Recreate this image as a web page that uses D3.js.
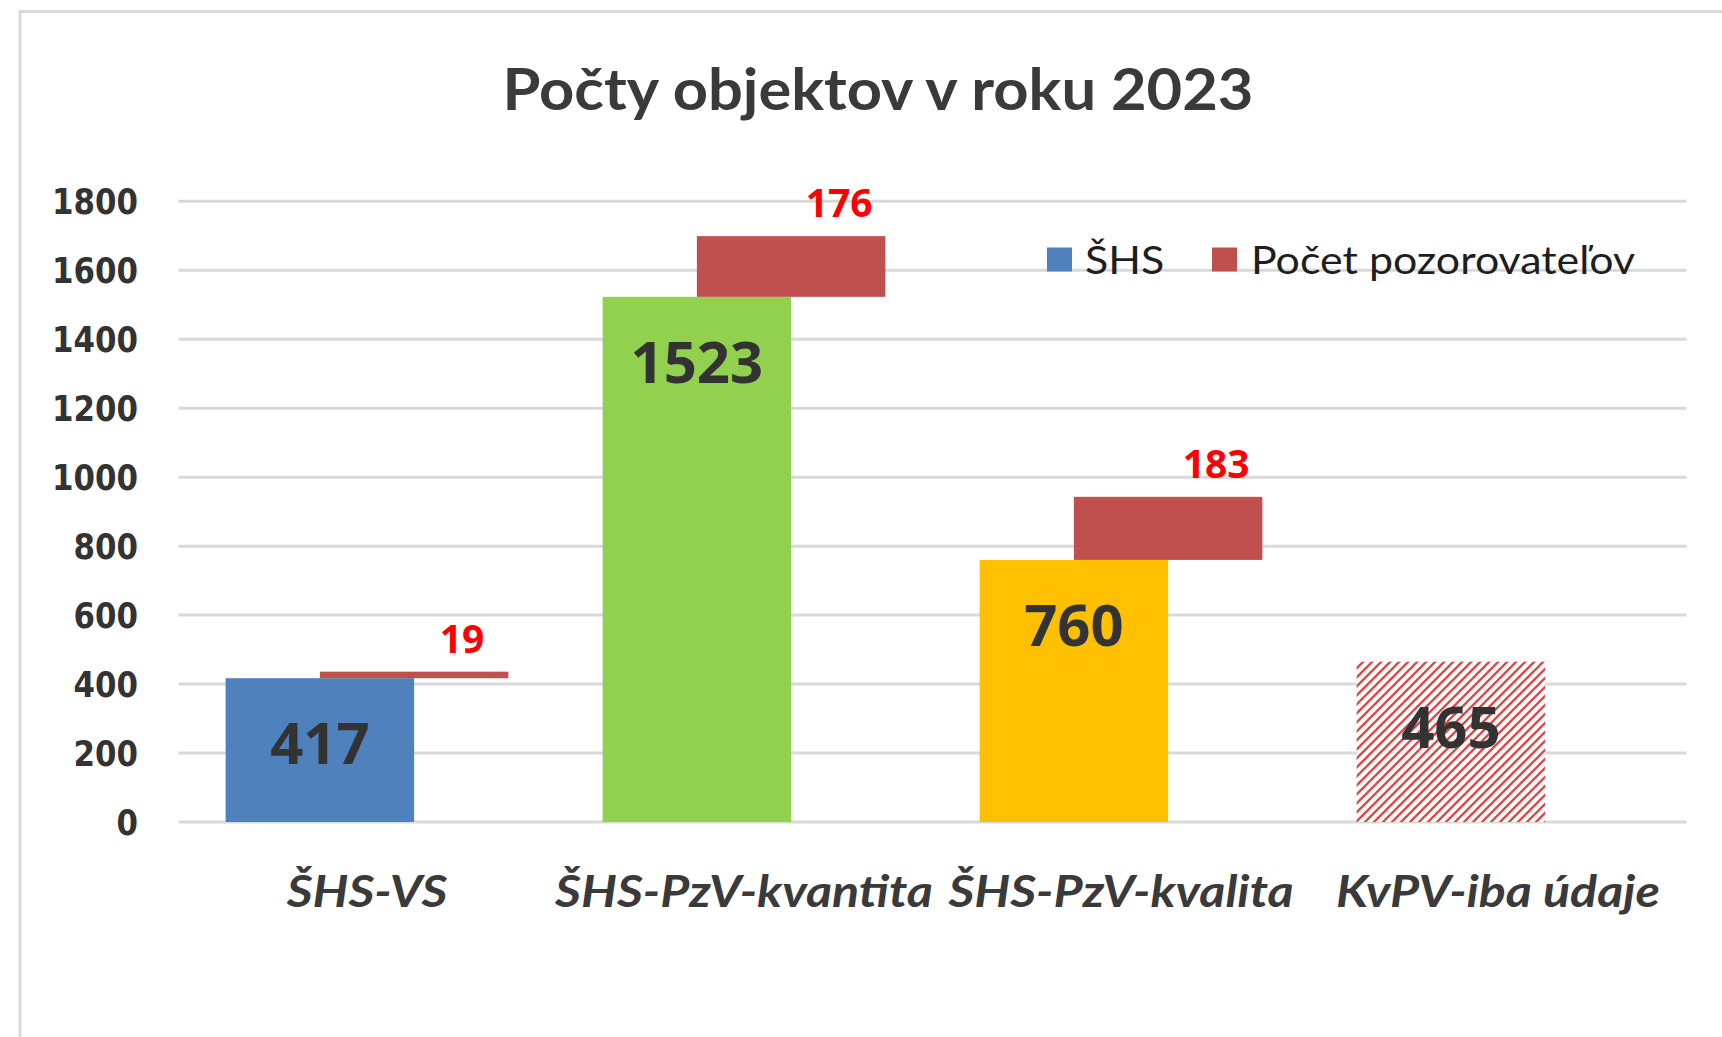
<!DOCTYPE html>
<html>
<head>
<meta charset="utf-8">
<script src="https://cdn.jsdelivr.net/npm/d3@7"></script>
<style>
  html, body { margin: 0; padding: 0; background: #ffffff; }
  svg { display: block; }
</style>
</head>
<body>
<svg id="chart" width="1722" height="1037"></svg>
<script>
// ---- data ----
const chartTitle = "Počty objektov v roku 2023";
const categories = ["ŠHS-VS", "ŠHS-PzV-kvantita", "ŠHS-PzV-kvalita", "KvPV-iba údaje"];
const shsValues = [417, 1523, 760, 465];
const observerValues = [19, 176, 183, null];
const yTickValues = [0, 200, 400, 600, 800, 1000, 1200, 1400, 1600, 1800];
const legendLabels = ["ŠHS", "Počet pozorovateľov"];

// ---- styles ----
const barFills = ["#4f81bd", "#92d050", "#ffc000", "url(#hatch)"];
const observerColor = "#c0504d";
const gridColor = "#d9d9d9";

const svg = d3.select("#chart");

// hatch pattern
const defs = svg.append("defs");
const pat = defs.append("pattern")
  .attr("id", "hatch")
  .attr("patternUnits", "userSpaceOnUse")
  .attr("width", 9).attr("height", 9);
pat.append("rect").attr("width", 9).attr("height", 9).attr("fill", "#ffffff");
pat.append("path")
  .attr("d", "M-2,2 L2,-2 M0,9 L9,0 M7,11 L11,7")
  .attr("stroke", "#e04848").attr("stroke-width", 2.3);

// chart border
svg.append("rect")
  .attr("x", 20).attr("y", 11.5)
  .attr("width", 1760).attr("height", 1100)
  .attr("fill", "none").attr("stroke", gridColor).attr("stroke-width", 3);

// scales
const plotLeft = 178.5, plotRight = 1686.5;
const x = d3.scaleBand().domain(categories).range([plotLeft, plotRight]).padding(0);
const y = d3.scaleLinear().domain([0, 1800]).range([822, 201.3]);

// helper: stretch text horizontally by a factor
function stretch(sel, f) {
  sel.each(function() {
    const n = this.getComputedTextLength();
    d3.select(this).attr("textLength", n * f).attr("lengthAdjust", "spacingAndGlyphs");
  });
}

// title
svg.append("text")
  .attr("x", 878).attr("y", 110)
  .attr("text-anchor", "middle")
  .attr("font-family", "Lato, 'Open Sans', sans-serif")
  .attr("font-weight", 700)
  .attr("font-size", 58)
  .attr("fill", "#3a3a3a")
  .attr("textLength", 751).attr("lengthAdjust", "spacingAndGlyphs")
  .text(chartTitle);

// gridlines
svg.append("g").selectAll("line")
  .data(yTickValues)
  .join("line")
  .attr("x1", plotLeft).attr("x2", plotRight)
  .attr("y1", d => y(d)).attr("y2", d => y(d))
  .attr("stroke", gridColor).attr("stroke-width", 3);

// y axis labels
const yAxis = svg.append("g")
  .attr("transform", `translate(${plotLeft},0)`)
  .call(d3.axisLeft(y).tickValues(yTickValues).tickSize(0).tickPadding(40.5).tickFormat(d3.format("d")));
yAxis.select(".domain").remove();
yAxis.selectAll("text")
  .attr("font-family", "'DejaVu Sans', Verdana, sans-serif")
  .attr("font-weight", 700)
  .attr("font-size", 35)
  .attr("fill", "#333333")
  .attr("dy", "0.36em")
  .attr("textLength", function(d) { return String(d).length * 21.5; })
  .attr("lengthAdjust", "spacingAndGlyphs");

// bars
const w = x.bandwidth() * 0.5;
const groupStart = d => x(d) + x.bandwidth() / 2 - 0.75 * w;

const rows = categories.map((c, i) => ({ cat: c, v: shsValues[i], o: observerValues[i], fill: barFills[i] }));

svg.append("g").selectAll("rect")
  .data(rows)
  .join("rect")
  .attr("x", d => groupStart(d.cat))
  .attr("y", d => y(d.v))
  .attr("width", w)
  .attr("height", d => y(0) - y(d.v))
  .attr("fill", d => d.fill);

// observer floating bars
const obsRows = rows.filter(d => d.o != null);
svg.append("g").selectAll("rect")
  .data(obsRows)
  .join("rect")
  .attr("x", d => groupStart(d.cat) + w / 2)
  .attr("y", d => y(d.v + d.o))
  .attr("width", w)
  .attr("height", d => y(d.v) - y(d.v + d.o))
  .attr("fill", observerColor);

// value labels inside bars
svg.append("g").selectAll("text")
  .data(rows)
  .join("text")
  .attr("x", d => groupStart(d.cat) + w / 2)
  .attr("y", d => y(d.v) + 86)
  .attr("text-anchor", "middle")
  .attr("font-family", "'Open Sans', 'Liberation Sans', sans-serif")
  .attr("font-weight", 700)
  .attr("font-size", 58)
  .attr("fill", "#333333")
  .text(d => d.v);

// observer labels
svg.append("g").selectAll("text")
  .data(obsRows)
  .join("text")
  .attr("x", d => groupStart(d.cat) + w + 48)
  .attr("y", d => y(d.v + d.o) - 19)
  .attr("text-anchor", "middle")
  .attr("font-family", "'Open Sans', 'Liberation Sans', sans-serif")
  .attr("font-weight", 700)
  .attr("font-size", 39)
  .attr("fill", "#ff0000")
  .text(d => d.o);

// x axis labels
const xAxis = svg.append("g")
  .attr("transform", `translate(0,${y(0)})`)
  .call(d3.axisBottom(x).tickSize(0).tickPadding(85));
xAxis.select(".domain").remove();
xAxis.selectAll("text")
  .attr("font-family", "Lato, 'Open Sans', sans-serif")
  .attr("font-weight", 700)
  .attr("font-style", "italic")
  .attr("font-size", 44)
  .attr("fill", "#3a3a3a")
  .attr("dy", 0)
  .call(stretch, 1.14);

// legend
const legendItems = [
  { label: legendLabels[0], color: barFills[0], sx: 1047, tx: 1085 },
  { label: legendLabels[1], color: observerColor, sx: 1212, tx: 1251 }
];
const lg = svg.append("g");
lg.selectAll("rect")
  .data(legendItems)
  .join("rect")
  .attr("x", d => d.sx).attr("y", 247.5)
  .attr("width", 25).attr("height", 24)
  .attr("fill", d => d.color);
lg.selectAll("text")
  .data(legendItems)
  .join("text")
  .attr("x", d => d.tx).attr("y", 274)
  .attr("font-family", "Lato, 'Open Sans', sans-serif")
  .attr("font-size", 39)
  .attr("fill", "#1e1e1e")
  .text(d => d.label)
  .call(stretch, 1.1);
</script>
</body>
</html>
